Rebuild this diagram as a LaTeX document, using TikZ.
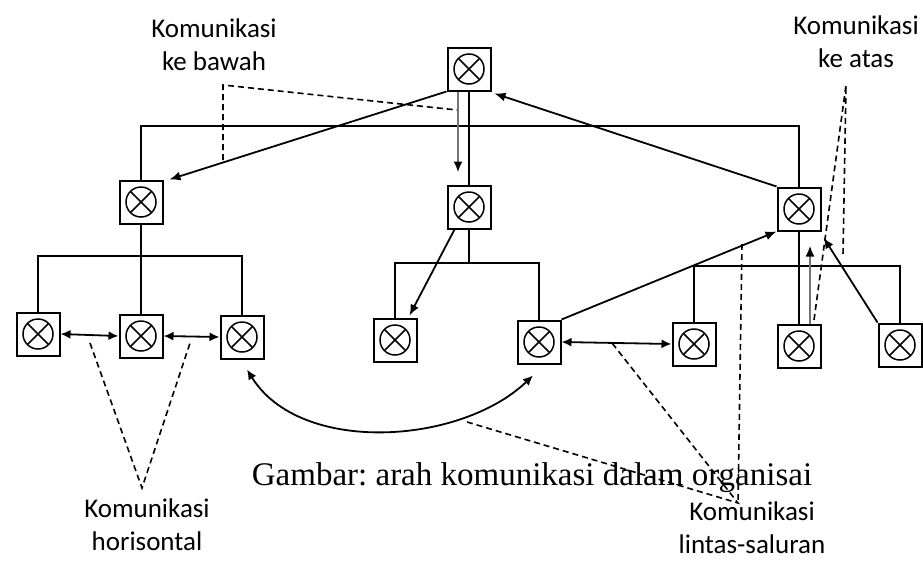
\documentclass[tikz,border=0pt]{standalone}
\usepackage{fontspec}
\setmainfont{Liberation Serif}
\newfontfamily\lblfont{Carlito}
\usetikzlibrary{arrows.meta}
\frenchspacing
\begin{document}
\begin{tikzpicture}[x=1pt,y=-1pt,
  unit/.style={draw, line width=2pt, minimum size=43pt, inner sep=0pt, fill=white},
  conn/.style={line width=2pt},
  arr/.style={line width=1.8pt, -{Latex[length=11pt,width=9pt]}},
  darr/.style={line width=1.8pt, {Latex[length=10pt,width=9pt]}-{Latex[length=10pt,width=9pt]}},
  garr/.style={line width=2.6pt, draw=black!55, -{Latex[length=11pt,width=9pt,color=black]}},
  dsh/.style={line width=1.6pt, dash pattern=on 6pt off 4pt},
  lbl/.style={font=\lblfont\fontsize{27}{33}\selectfont, align=center},
  cross/.style={line width=1.5pt},
]
\fill[white] (0,0) rectangle (923,560);
\useasboundingbox (0,0) rectangle (923,560);

% units
\node[unit] (T) at (469,69) {};
\node[unit] (L) at (141,202) {};
\node[unit] (M) at (469,207) {};
\node[unit] (R) at (799,209) {};
\node[unit] (B1) at (38,334) {};
\node[unit] (B2) at (141,336) {};
\node[unit] (B3) at (242,337) {};
\node[unit] (B4) at (395,340) {};
\node[unit] (B5) at (539,342) {};
\node[unit] (B6) at (694,344) {};
\node[unit] (B7) at (799,346) {};
\node[unit] (B8) at (900,345) {};

\foreach \n in {T,L,M,R,B1,B2,B3,B4,B5,B6,B7,B8}{
  \draw[cross] (\n.center) circle (15pt);
  \draw[cross] ([shift={(-10.6pt,-10.6pt)}]\n.center) -- ([shift={(10.6pt,10.6pt)}]\n.center);
  \draw[cross] ([shift={(-10.6pt,10.6pt)}]\n.center) -- ([shift={(10.6pt,-10.6pt)}]\n.center);
}

% tree connectors
\coordinate (barT) at (469,126);
\draw[conn] (L.north) |- (barT) -| (R.north);
\draw[conn] (T.south) -- (M.north);
\coordinate (barL) at (141,256);
\draw[conn] (L.south) -- (B2.north);
\draw[conn] (B1.north) |- (barL) -| (B3.north);
\coordinate (barM) at (469,263);
\draw[conn] (M.south) -- (barM);
\draw[conn] (B4.north) |- (barM) -| (B5.north);
\coordinate (barR) at (799,266);
\draw[conn] (R.south) -- (B7.north);
\draw[conn] (B6.north) |- (barR) -| (B8.north);

% communication arrows
\draw[arr] (T.south west) -- ([xshift=6pt]L.north east);
\draw[garr] ([xshift=-11pt]T.south) -- ([xshift=-11pt,yshift=12pt]M.north);
\draw[arr] (R.north west) -- ([shift={(3pt,-2pt)}]T.south east);
\draw[arr] ([xshift=8pt]M.south west) -- ([xshift=-8pt,yshift=2pt]B4.north east);
\draw[arr] (B5.north east) -- (R.south west);
\draw[garr] ([xshift=11pt]B7.north) -- ([xshift=11pt,yshift=-14pt]R.south);
\draw[arr] (B8.north west) -- ([shift={(2pt,-6pt)}]R.south east);
\draw[darr] (B1.east) -- (B2.west);
\draw[darr] (B2.east) -- (B3.west);
\draw[darr] (B5.east) -- (B6.west);
\draw[darr] ([shift={(5pt,-10pt)}]B3.south) .. controls (300,455) and (460,445) .. ([shift={(-6pt,-11pt)}]B5.south);

% labels
\node[lbl] (kb) at (214,45) {Komunikasi\\ke bawah};
\node[lbl] (ka) at (856,42) {Komunikasi\\ke atas};
\node[lbl] (kh) at (147,525) {Komunikasi\\horisontal};
\node[lbl] (kl) at (752,528) {Komunikasi\\lintas-saluran};
\node[font=\fontsize{33}{40}\selectfont, anchor=base, inner sep=0pt] (cap) at (532,485) {Gambar: arah komunikasi dalam organisai};

% dashed pointers
\coordinate (kbA) at (223,85);
\coordinate (kbB) at (223,160);
\coordinate (kbC) at (457,110);
\draw[dsh] (kbB) -- (kbA) -- (kbC);
\coordinate (kaA) at (846,85);
\coordinate (kaB) at (814,320);
\coordinate (kaC) at (843,255);
\draw[dsh] (kaB) -- (kaA) -- (kaC);
\coordinate (khA) at (142,488);
\coordinate (khB) at (90,343);
\coordinate (khC) at (190,343);
\draw[dsh] (khB) -- (khA) -- (khC);
\coordinate (klA) at (738,503);
\coordinate (klB) at (467,422);
\coordinate (klC) at (612,343);
\coordinate (klD) at (742,244);
\draw[dsh] (klB) -- (klA) -- (klC);
\draw[dsh] (klD) -- (klA);
\end{tikzpicture}
\end{document}
